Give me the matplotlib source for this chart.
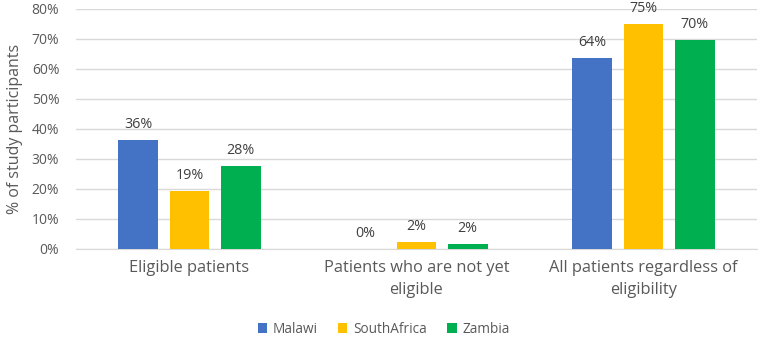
import numpy as np
import matplotlib.pyplot as plt

categories = ['Eligible patients', 'Patients who are not yet\neligible',
              'All patients regardless of\neligibility']
countries = ['Malawi', 'SouthAfrica', 'Zambia']
malawi = [36.3, 0.0, 63.7]
south_africa = [19.3, 2.2, 75.0]
zambia = [27.7, 1.7, 69.7]
value_labels = [['36%', '0%', '64%'], ['19%', '2%', '75%'], ['28%', '2%', '70%']]
yticks = [0, 10, 20, 30, 40, 50, 60, 70, 80]

colors = ['#4472C4', '#FFC000', '#00B050']
text_color = '#595959'

plt.rcParams['font.family'] = ['Open Sans', 'DejaVu Sans']

fig = plt.figure(figsize=(7.67, 3.39), dpi=100)
ax = fig.add_axes([76 / 767, 1 - 249 / 339, 681 / 767, 240 / 339])

x = np.arange(len(categories))
width = 0.176
pitch = 0.225
series = [malawi, south_africa, zambia]
for i, (vals, name) in enumerate(zip(series, countries)):
    pos = x + (i - 1) * pitch
    ax.bar(pos, vals, width, color=colors[i], label=name, zorder=3)
    for p, v, lab in zip(pos, vals, value_labels[i]):
        ax.text(p, v + 2.8, lab, ha='center', va='bottom', fontsize=10.3,
                color='#404040', clip_on=False)

ax.set_xlim(-0.5, 2.5)
ax.set_ylim(0, 80)
ax.set_yticks(yticks)
ax.set_yticklabels([f'{t}%' for t in yticks], fontsize=10, color=text_color)
ax.set_xticks(x)
ax.set_xticklabels(categories, fontsize=11.8, color=text_color, linespacing=1.5)
ax.tick_params(axis='both', length=0)
ax.tick_params(axis='x', pad=8)
ax.tick_params(axis='y', pad=12)
ax.grid(axis='y', color='#D9D9D9', linewidth=1, zorder=0)
for s in ['top', 'right', 'left']:
    ax.spines[s].set_visible(False)
ax.spines['bottom'].set_color('#D9D9D9')
ax.set_ylabel('% of study participants', fontsize=11.5, color=text_color, labelpad=6)

fig.legend(loc='lower center', bbox_to_anchor=(0.5, -0.03), ncol=3, frameon=False,
           fontsize=9.8, handlelength=0.7, handleheight=0.7, handletextpad=0.4,
           columnspacing=1.5, labelcolor=text_color)

fig.savefig('out.png', dpi=100)
